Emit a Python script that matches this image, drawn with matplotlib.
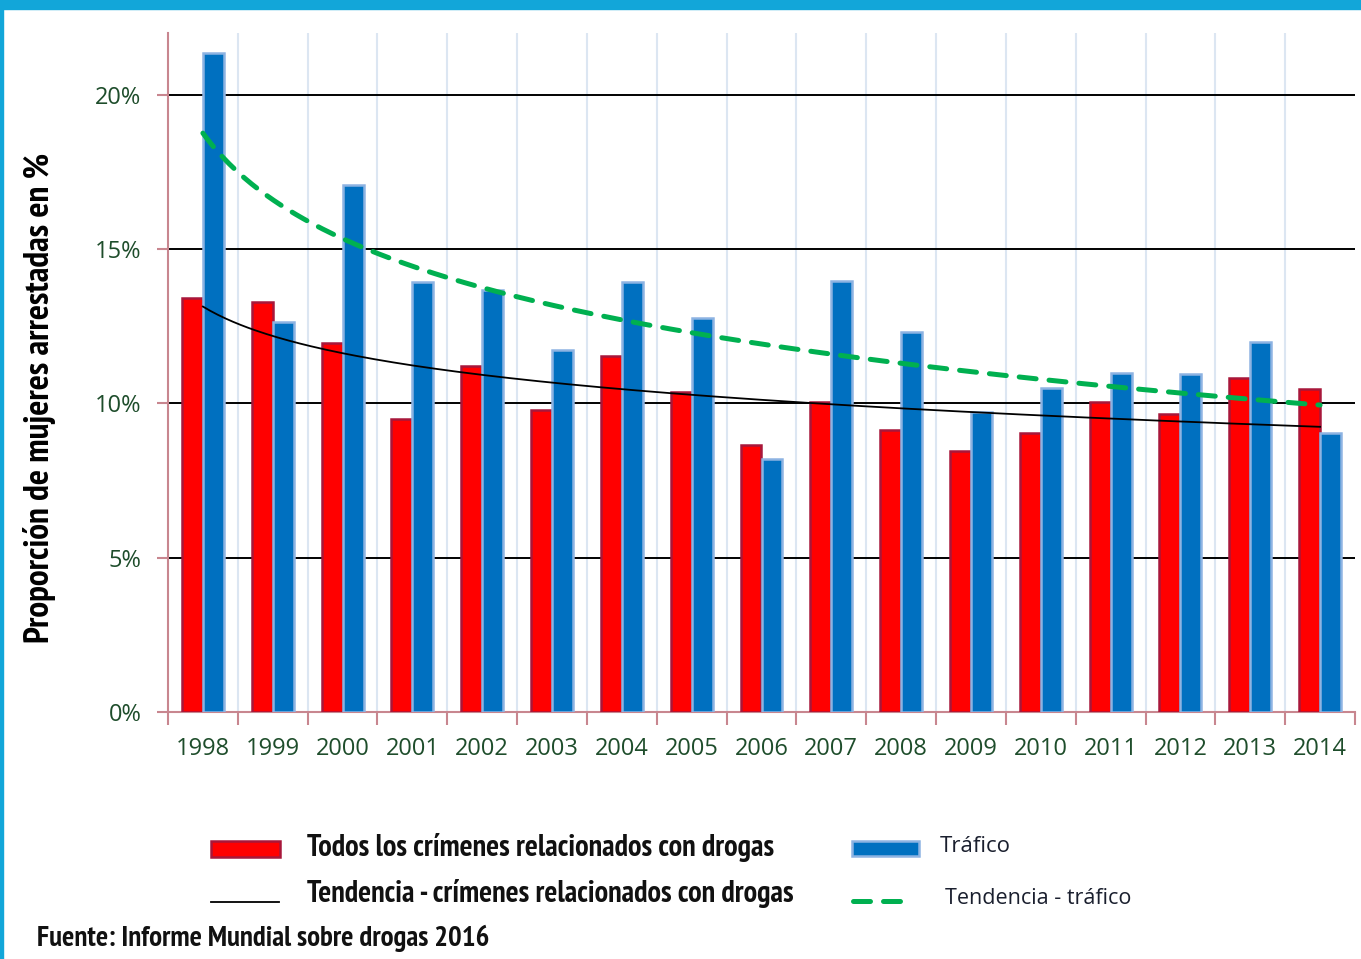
import numpy as np
import matplotlib
matplotlib.use("Agg")
import matplotlib.pyplot as plt
import matplotlib.font_manager as fm
from matplotlib.patches import Rectangle
from matplotlib.lines import Line2D

years = ["1998", "1999", "2000", "2001", "2002", "2003", "2004", "2005", "2006",
         "2007", "2008", "2009", "2010", "2011", "2012", "2013", "2014"]
todos = [13.4, 13.3, 11.94, 9.48, 11.2, 9.8, 11.52, 10.36, 8.64,
         10.03, 9.13, 8.45, 9.03, 10.06, 9.64, 10.81, 10.45]
trafico = [21.36, 12.65, 17.06, 13.92, 13.66, 11.72, 13.92, 12.75, 8.19,
           13.95, 12.3, 9.71, 10.49, 11.0, 10.94, 12.0, 9.03]
yticks = [0, 5, 10, 15, 20]
ytick_labels = ["0%", "5%", "10%", "15%", "20%"]

# pick a narrow bold font that exists
bold_names = {f.name for f in fm.fontManager.ttflist
              if (f.weight if isinstance(f.weight, int) else 700 if 'bold' in str(f.weight) else 400) >= 600}
narrow = "Roboto"
for cand in ["Arial Narrow", "Liberation Sans Narrow", "PT Sans Narrow", "Roboto Condensed",
             "Archivo Narrow", "Pragati Narrow", "Open Sans Condensed"]:
    if cand in bold_names:
        narrow = cand
        break
NARROW = [narrow, "DejaVu Sans"]
NORMAL = ["Open Sans", "DejaVu Sans"]
LBL = "#1e4d2b"
AXC = "#c8868f"

fig = plt.figure(figsize=(13.61, 9.59), dpi=100)
W, H = 1361, 959
def fx(px): return px / W
def fy(py): return 1 - py / H

# border
fig.patches.append(Rectangle((0, fy(9)), 1, 9 / H, transform=fig.transFigure,
                             color="#12a6d9", zorder=0))
fig.patches.append(Rectangle((0, 0), 3 / W, 1, transform=fig.transFigure,
                             color="#12a6d9", zorder=0))

ax = fig.add_axes([fx(168), fy(712), fx(1355) - fx(168), (712 - 33) / H])
x = np.arange(len(years))
bw = 0.3
ax.bar(x - bw / 2, todos, bw, color="#ff0000", edgecolor="#a8173a", linewidth=1.8, zorder=3)
ax.bar(x + bw / 2, trafico, bw, color="#0070c0", edgecolor="#8db3e2", linewidth=1.8, zorder=3)

GREEN_KW = dict(color="#00b050", lw=3.6, dashes=(3.4, 2.6), dash_capstyle="round")

# logarithmic trend lines (fitted from data)
t = np.arange(1, len(years) + 1)
xs = np.linspace(1, len(years), 300)
for vals, kw in [(todos, dict(color="black", lw=1.3)), (trafico, GREEN_KW)]:
    b, a = np.polyfit(np.log(t), vals, 1)
    ax.plot(xs - 1, a + b * np.log(xs), zorder=4, **kw)

ax.set_xlim(-0.5, len(years) - 0.5)
ax.set_ylim(0, 22)
for v in yticks[1:]:
    ax.axhline(v, color="black", lw=1.4, zorder=1)
for b_ in np.arange(0.5, len(years) - 0.5, 1):
    ax.axvline(b_, color="#dce6f2", lw=1.5, zorder=0.5)

ax.set_yticks(yticks)
ax.set_yticklabels(ytick_labels)
ax.set_xticks(x)
ax.set_xticklabels(years)
ax.set_xticks(np.arange(-0.5, len(years), 1), minor=True)
ax.tick_params(axis="x", which="major", length=0, pad=18, labelsize=17, labelcolor=LBL)
ax.tick_params(axis="x", which="minor", length=9, color=AXC, width=1.5)
ax.tick_params(axis="y", length=8, color=AXC, width=1.5, pad=11, labelsize=17, labelcolor=LBL)
for lab in ax.get_xticklabels() + ax.get_yticklabels():
    lab.set_family(NORMAL)
for s in ["top", "right"]:
    ax.spines[s].set_visible(False)
for s in ["left", "bottom"]:
    ax.spines[s].set_color(AXC)
    ax.spines[s].set_linewidth(1.5)

fig.text(fx(40), fy(398), "Proporción de mujeres arrestadas en %", rotation=90,
         ha="center", va="center", fontsize=25.5, fontweight="bold", family=NARROW)

# legend
fig.patches.append(Rectangle((fx(211), fy(857)), 69 / W, 16 / H, transform=fig.transFigure,
                             facecolor="#ff0000", edgecolor="#a8173a", lw=1.8))
fig.patches.append(Rectangle((fx(852), fy(856)), 67 / W, 15 / H, transform=fig.transFigure,
                             facecolor="#0070c0", edgecolor="#8db3e2", lw=1.8))
fig.lines.append(Line2D([fx(211), fx(279)], [fy(902), fy(902)], transform=fig.transFigure,
                        color="black", lw=1.3))
fig.lines.append(Line2D([fx(853), fx(908)], [fy(901), fy(901)], transform=fig.transFigure,
                        **GREEN_KW))
fig.text(fx(307), fy(848), "Todos los crímenes relacionados con drogas", ha="left", va="center",
         fontsize=21.8, fontweight="bold", family=NARROW, color="#111111")
fig.text(fx(307), fy(893), "Tendencia - crímenes relacionados con drogas", ha="left", va="center",
         fontsize=21.8, fontweight="bold", family=NARROW, color="#111111")
fig.text(fx(940), fy(847), "Tráfico", ha="left", va="center", fontsize=16, family=NORMAL,
         color="#1a1f2e")
fig.text(fx(945), fy(898), "Tendencia - tráfico", ha="left", va="center", fontsize=15.5,
         family=NORMAL, color="#1a1f2e")
fig.text(fx(37), fy(938), "Fuente: Informe Mundial sobre drogas 2016", ha="left", va="center",
         fontsize=20.8, fontweight="bold", family=NARROW, color="#111111")

fig.savefig("out.png", dpi=100)
